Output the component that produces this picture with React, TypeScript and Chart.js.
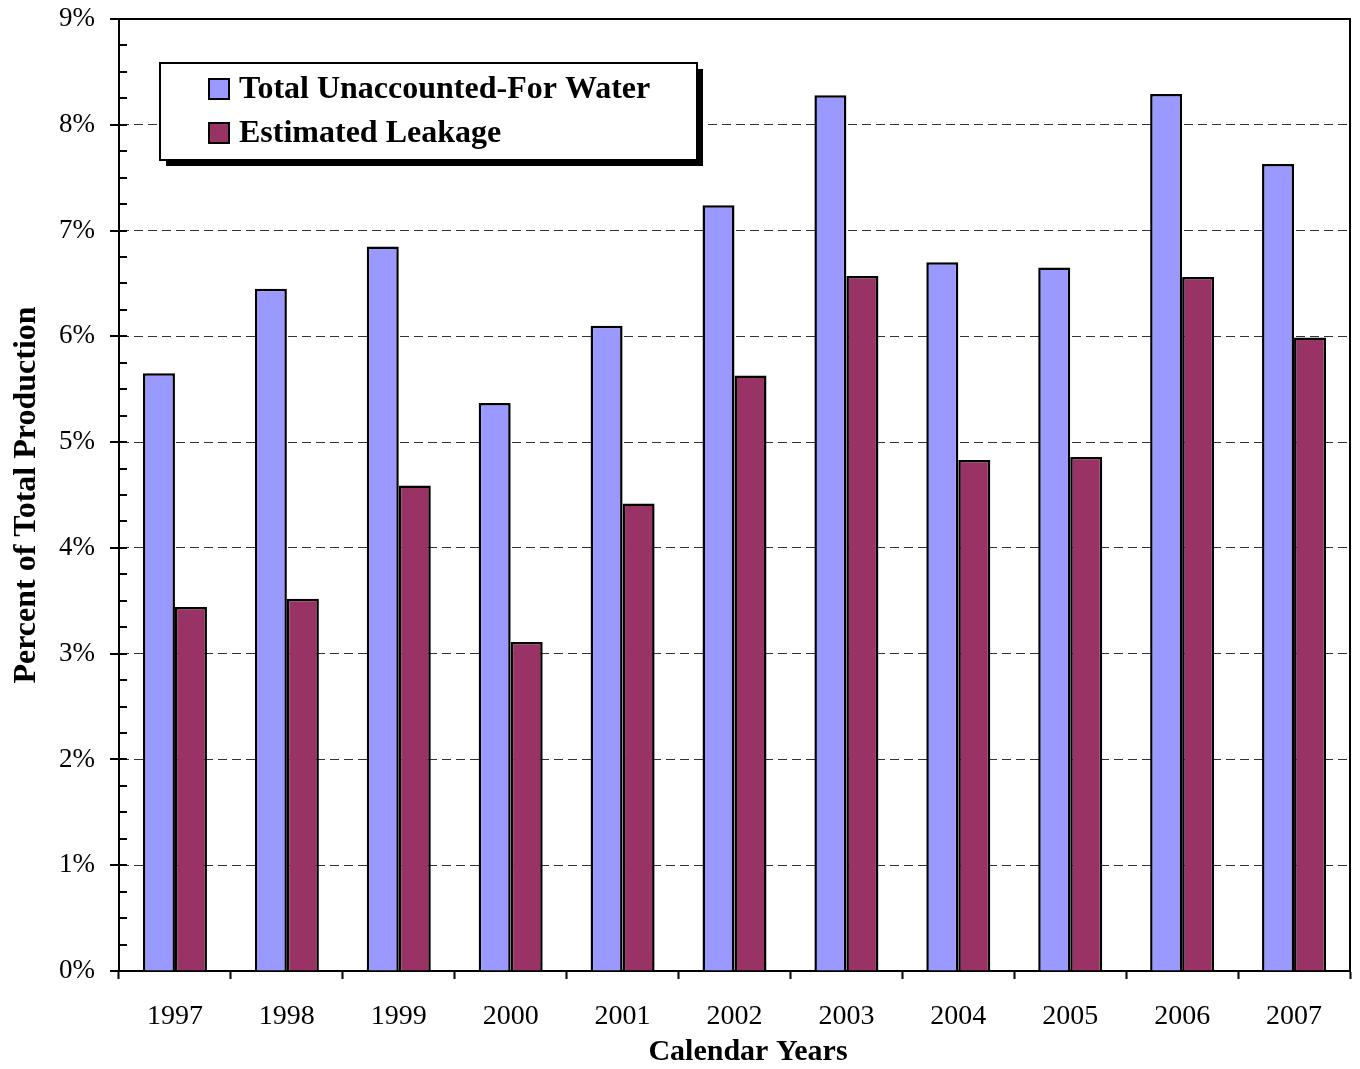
import React, { useEffect, useRef } from "react";
import { Chart, registerables } from "chart.js";

Chart.register(...registerables);

const years = ["1997", "1998", "1999", "2000", "2001", "2002", "2003", "2004", "2005", "2006", "2007"];
const totalUFW = [5.65, 6.45, 6.85, 5.37, 6.1, 7.24, 8.28, 6.7, 6.65, 8.29, 7.63];
const leakage = [3.44, 3.52, 4.59, 3.11, 4.42, 5.63, 6.57, 4.83, 4.86, 6.56, 5.99];
const seriesNames = ["Total Unaccounted-For Water", "Estimated Leakage"];
const seriesColors = ["#9999FF", "#993366"];
const yTicks = [0, 1, 2, 3, 4, 5, 6, 7, 8, 9];
const xTitle = "Calendar Years";
const yTitle = "Percent of Total Production";

const FONT = "'Liberation Serif', 'Times New Roman', serif";

const framePlugin = {
  id: "frame",
  afterDraw(chart: any) {
    const ctx = chart.ctx;
    const { left, right, top, bottom } = chart.chartArea;
    const y = chart.scales.y;
    ctx.save();
    ctx.strokeStyle = "#000";
    ctx.lineWidth = 2;
    // frame top and right
    ctx.beginPath();
    ctx.moveTo(left, top);
    ctx.lineTo(right, top);
    ctx.lineTo(right, bottom);
    ctx.stroke();
    // y major and minor ticks
    for (let v = 0; v <= 9.001; v += 0.25) {
      const py = Math.round(y.getPixelForValue(v));
      const major = Math.abs(v - Math.round(v)) < 1e-6;
      ctx.beginPath();
      ctx.moveTo(major ? left - 9 : left, py);
      ctx.lineTo(left + 8, py);
      ctx.stroke();
    }
    // x title
    ctx.fillStyle = "#000";
    ctx.font = `bold 30px ${FONT}`;
    ctx.textAlign = "center";
    ctx.textBaseline = "middle";
    ctx.fillText(xTitle, 748, 1052);
    // legend
    const lx = left + 41;
    const ly = top + 44;
    const lw = 537;
    const lh = 97;
    ctx.fillStyle = "#000";
    ctx.fillRect(lx + 6, ly + 6, lw, lh);
    ctx.fillStyle = "#fff";
    ctx.fillRect(lx, ly, lw, lh);
    ctx.lineWidth = 2;
    ctx.strokeRect(lx, ly, lw, lh);
    ctx.font = `bold 32px ${FONT}`;
    ctx.textBaseline = "middle";
    ctx.textAlign = "left";
    chart.data.datasets.forEach((ds: any, i: number) => {
      const cy = ly + 26 + i * 44;
      ctx.fillStyle = ds.backgroundColor;
      ctx.fillRect(lx + 49, cy - 10, 20, 20);
      ctx.lineWidth = 2;
      ctx.strokeStyle = "#000";
      ctx.strokeRect(lx + 49, cy - 10, 20, 20);
      ctx.fillStyle = "#000";
      ctx.fillText(ds.label, lx + 79, cy + 1);
    });
    ctx.restore();
  },
};

export default function App() {
  const ref = useRef<HTMLCanvasElement>(null);
  useEffect(() => {
    document.body.style.margin = "0";
    const chart = new Chart(ref.current as HTMLCanvasElement, {
      type: "bar",
      data: {
        labels: years,
        datasets: [
          {
            label: seriesNames[0],
            data: totalUFW,
            backgroundColor: seriesColors[0],
            borderColor: "#000",
            borderWidth: 2.5,
          },
          {
            label: seriesNames[1],
            data: leakage,
            backgroundColor: seriesColors[1],
            borderColor: "#000",
            borderWidth: 2.5,
          },
        ],
      },
      options: {
        responsive: false,
        animation: false,
        devicePixelRatio: 1,
        layout: { padding: { left: 0, top: 19, right: 10, bottom: 0 } },
        datasets: { bar: { categoryPercentage: 0.572, barPercentage: 1.0 } },
        plugins: { legend: { display: false }, tooltip: { enabled: false } },
        scales: {
          x: {
            afterFit: (s: any) => {
              s.height = 98;
              s.paddingLeft = 0;
              s.paddingRight = 0;
            },
            grid: {
              drawOnChartArea: false,
              drawTicks: true,
              tickLength: 8,
              tickColor: "#000",
              tickWidth: 2,
            },
            border: { display: true, color: "#000", width: 2 },
            ticks: {
              color: "#000",
              font: { family: FONT, size: 28 },
              padding: 21,
              maxRotation: 0,
            },
            title: { display: false },
          },
          y: {
            min: 0,
            max: 9,
            afterFit: (s: any) => {
              s.width = 119;
              s.paddingTop = 0;
              s.paddingBottom = 0;
            },
            afterBuildTicks: (s: any) => {
              s.ticks = yTicks.map((v) => ({ value: v }));
            },
            grid: {
              drawTicks: false,
              color: (c: any) => (c.tick && (c.tick.value === 0 || c.tick.value === 9) ? "rgba(0,0,0,0)" : "#333"),
              lineWidth: 1,
            },
            border: { display: true, color: "#000", width: 2, dash: [9, 5] },
            ticks: {
              color: "#000",
              font: { family: FONT, size: 27 },
              padding: 24,
              callback: (v: any) => `${v}%`,
            },
            title: {
              display: true,
              text: yTitle,
              color: "#000",
              font: { family: FONT, size: 32, weight: "bold", lineHeight: 1.2 },
              padding: { top: 8, bottom: 0 },
            },
          },
        },
      },
      plugins: [framePlugin],
    });
    return () => chart.destroy();
  }, []);
  return (
    <div style={{ width: 1360, height: 1069, background: "#fff" }}>
      <canvas ref={ref} width={1360} height={1069} style={{ display: "block" }} />
    </div>
  );
}
